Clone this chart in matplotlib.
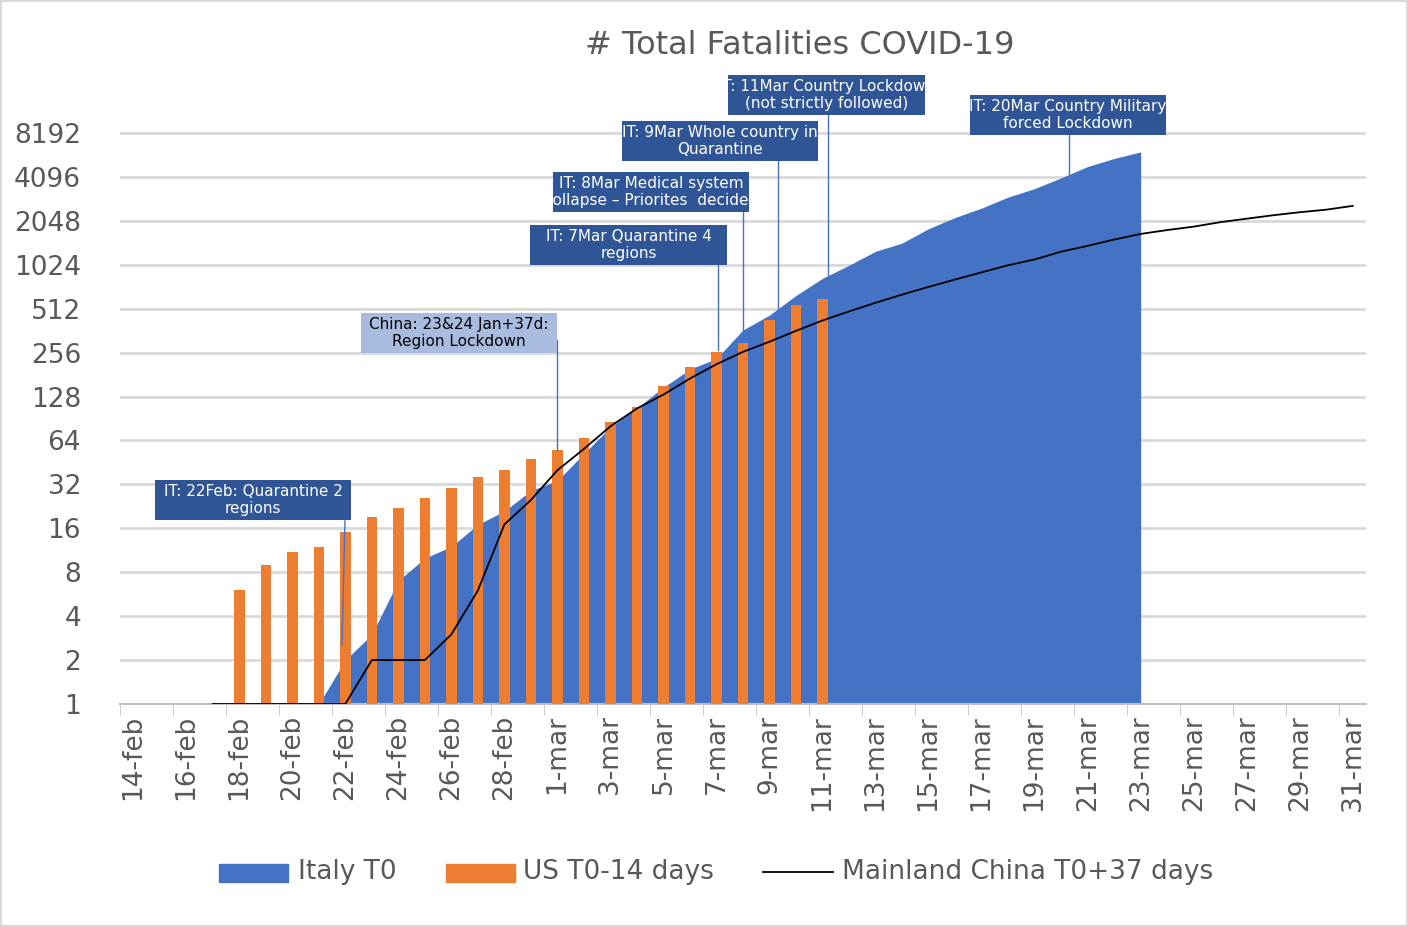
import matplotlib
matplotlib.use("Agg")
import matplotlib.pyplot as plt
import numpy as np

dates = [f"{d}-feb" for d in range(14, 30)] + [f"{d}-mar" for d in range(1, 32)]
italy_start = "21-feb"
italy = [1, 2, 3, 7, 10, 12, 17, 21, 29, 34, 52, 79, 107, 148, 197, 233, 366, 463, 631, 827,
         1016, 1266, 1441, 1809, 2158, 2503, 2978, 3405, 4032, 4825, 5476, 6077]
us_start = "18-feb"
us = [6, 9, 11, 12, 15, 19, 22, 26, 30, 36, 40, 48, 55, 66, 85, 108, 150, 205, 259, 300, 428, 540, 600]
china_start = "17-feb"
china = [1, 1, 1, 1, 1, 1, 2, 2, 2, 3, 6, 17, 25, 40, 56, 80, 106, 132, 170, 213, 259, 304, 361,
         425, 490, 562, 639, 722, 811, 908, 1016, 1113, 1259, 1380, 1523, 1665, 1770, 1868, 2004,
         2118, 2236, 2345, 2442, 2592]
yticks = [1, 2, 4, 8, 16, 32, 64, 128, 256, 512, 1024, 2048, 4096, 8192]

W, H = 1408, 927
fig = plt.figure(figsize=(W/100, H/100), dpi=100)
ax = fig.add_axes([120/W, 1-704/H, 1246/W, (704-111)/H])
gray = "#595959"

xi = np.arange(len(dates))
i0 = dates.index(italy_start)
ax.fill_between(xi[i0:i0+len(italy)], 1, italy, color="#4472C4", lw=0, zorder=2)
u0 = dates.index(us_start)
ax.bar(xi[u0:u0+len(us)], np.array(us) - 1, bottom=1, width=0.4, color="#ED7D31", zorder=3)
c0 = dates.index(china_start)
ax.plot(xi[c0:c0+len(china)], china, color="black", lw=1.3, zorder=4)

ax.set_yscale("log", base=2)
ax.set_ylim(1, 8192*2**0.5)
ax.set_xlim(-0.5, len(dates)-0.5)
ax.set_yticks(yticks)
ax.set_yticklabels([str(v) for v in yticks], fontsize=19, color=gray)
ax.set_xticks(xi[::2])
ax.set_xticklabels(dates[::2], rotation=90, fontsize=19, color=gray)
ax.set_xticks(np.arange(-0.5, len(dates), 2), minor=True)
ax.tick_params(axis="x", which="major", length=0, pad=8)
ax.tick_params(axis="x", which="minor", length=8, color="#bfbfbf")
ax.tick_params(axis="y", length=0, pad=28)
ax.grid(axis="y", color="#d9d9d9", lw=2, zorder=0)
for s in ["top", "right", "left"]:
    ax.spines[s].set_visible(False)
ax.spines["bottom"].set_color("#bfbfbf")
ax.spines["bottom"].set_linewidth(1.5)

fig.text(800/W, 1-45/H, "# Total Fatalities COVID-19", ha="center", va="center", fontsize=23, color=gray)

def P(x, y):
    return (x/W, 1-y/H)

def box(x0, y0, x1, y1, text, fc="#2F5597", tc="white"):
    fig.patches.append(plt.Rectangle(P(x0, y1), (x1-x0)/W, (y1-y0)/H, transform=fig.transFigure,
                                     facecolor=fc, edgecolor="none", zorder=5))
    fig.text(*P((x0+x1)/2, (y0+y1)/2), text, ha="center", va="center", fontsize=11, color=tc,
             linespacing=1.15, zorder=6)

def line(x, ya, yb, xb=None):
    xb = x if xb is None else xb
    fig.add_artist(plt.Line2D([x/W, xb/W], [1-ya/H, 1-yb/H], color="#4472C4", lw=1, zorder=5))

box(155, 480, 351, 520, "IT: 22Feb: Quarantine 2\nregions")
line(345, 520, 645, 342)
box(361, 313, 557, 353, "China: 23&24 Jan+37d:\nRegion Lockdown", fc="#A9BCE0", tc="black")
line(557, 340, 450)
box(530, 225, 727, 265, "IT: 7Mar Quarantine 4\nregions")
line(718, 265, 350)
box(553, 172, 749, 212, "IT: 8Mar Medical system\ncollapse \u2013 Priorites  decided")
line(743, 212, 340)
box(622, 121, 818, 161, "IT: 9Mar Whole country in\nQuarantine")
line(778, 161, 310)
box(728, 75, 925, 115, "IT: 11Mar Country Lockdown\n(not strictly followed)")
line(828, 115, 280)
box(970, 95, 1166, 135, "IT: 20Mar Country Military\nforced Lockdown")
line(1069, 135, 175)

# legend
fig.patches.append(plt.Rectangle(P(219, 882), 69/W, 18/H, transform=fig.transFigure, color="#4472C4"))
fig.text(*P(298, 872), "Italy T0", va="center", fontsize=19, color=gray)
fig.patches.append(plt.Rectangle(P(446, 882), 69/W, 18/H, transform=fig.transFigure, color="#ED7D31"))
fig.text(*P(523, 872), "US T0-14 days", va="center", fontsize=19, color=gray)
fig.add_artist(plt.Line2D([763/W, 833/W], [1-872/H]*2, color="black", lw=1.3))
fig.text(*P(842, 872), "Mainland China T0+37 days", va="center", fontsize=19, color=gray)

fig.patches.append(plt.Rectangle((0.001, 0.001), 0.998, 0.998, transform=fig.transFigure,
                                 fill=False, edgecolor="#d9d9d9", lw=1.5))
fig.savefig("out.png", dpi=100)
